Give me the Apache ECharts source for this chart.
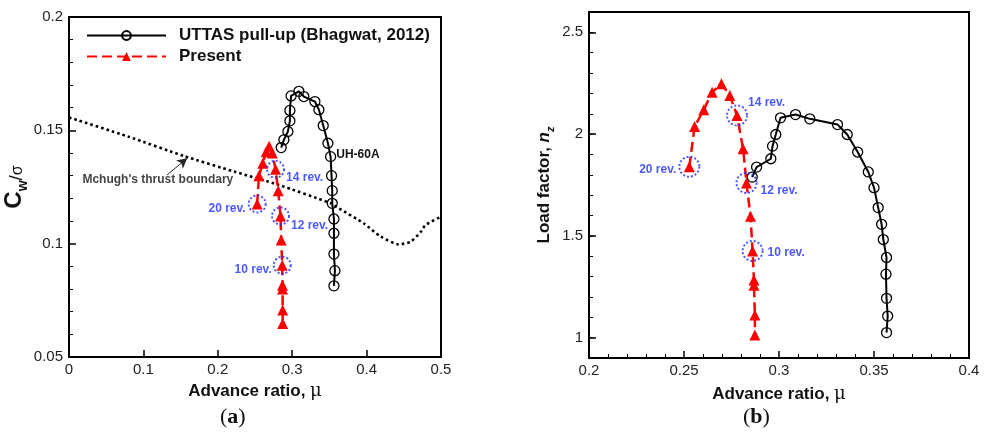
<!DOCTYPE html>
<html>
<head>
<meta charset="utf-8">
<script src="https://cdn.jsdelivr.net/npm/echarts@6/dist/echarts.min.js"></script>
<style>
  html, body { margin: 0; padding: 0; background: #fff; }
  #chart { width: 986px; height: 433px; }
</style>
</head>
<body>
<div id="chart"></div>
<script>
// ---- Panel (a): thrust coefficient vs advance ratio ----
const refMuA = [0.2852, 0.2888, 0.2942, 0.2969, 0.2969, 0.2985, 0.3090, 0.3157, 0.3305, 0.3359, 0.3417,
                0.3480, 0.3516, 0.3529, 0.3538, 0.3538, 0.3561, 0.3561, 0.3561, 0.3574, 0.3561];
const refCw   = [0.1424, 0.1458, 0.1495, 0.1542, 0.1588, 0.1652, 0.1672, 0.1649, 0.1627, 0.1591, 0.1521,
                0.1443, 0.1384, 0.1300, 0.1234, 0.1178, 0.1109, 0.1046, 0.0954, 0.0881, 0.0814];

const presMuA = [0.2529, 0.2553, 0.2605, 0.2650, 0.2690, 0.2733, 0.2776, 0.2812, 0.2843, 0.2852,
                 0.2866, 0.2870, 0.2870, 0.2872, 0.2872];
const presCw  = [0.1175, 0.1300, 0.1355, 0.1405, 0.1430, 0.1400, 0.1328, 0.1234, 0.1122, 0.1016,
                 0.0905, 0.0817, 0.0800, 0.0707, 0.0648];

const mchughMu = [0, 0.080, 0.155, 0.222, 0.282, 0.352, 0.3627, 0.396, 0.419, 0.443, 0.459, 0.473, 0.479, 0.500];
const mchughCw = [0.1557, 0.1472, 0.1386, 0.1318, 0.1259, 0.1178, 0.1156, 0.1090, 0.1031, 0.0997, 0.1008, 0.1053, 0.1082, 0.1119];

// ---- Panel (b): load factor vs advance ratio ----
const refMuB = [0.2859, 0.2882, 0.2957, 0.2966, 0.2983, 0.3008, 0.3087, 0.3162, 0.3308, 0.3359, 0.3414,
                0.3470, 0.3500, 0.3522, 0.3540, 0.3549, 0.3566, 0.3563, 0.3566, 0.3572, 0.3566];
const refNz  = [1.789, 1.838, 1.879, 1.941, 1.998, 2.080, 2.096, 2.075, 2.047, 1.998, 1.912,
                1.814, 1.737, 1.639, 1.557, 1.482, 1.394, 1.312, 1.193, 1.106, 1.025];

const presMuB = [0.2528, 0.2556, 0.2604, 0.2648, 0.2697, 0.2741, 0.2779, 0.2811, 0.2829, 0.2850,
                 0.2861, 0.2868, 0.2868, 0.2873, 0.2873];
const presNz  = [1.840, 2.037, 2.120, 2.206, 2.247, 2.190, 2.092, 1.928, 1.760, 1.597,
                 1.426, 1.283, 1.258, 1.111, 1.013];

// revolution markers: label and index into the "Present" arrays
const revNames = ['20 rev.', '14 rev.', '12 rev.', '10 rev.'];
const revIndex = [0, 6, 8, 10];

// axis ticks
const xTicksA = [0, 0.1, 0.2, 0.3, 0.4, 0.5];
const yTicksA = [0.05, 0.1, 0.15, 0.2];
const xTicksB = [0.2, 0.25, 0.3, 0.35, 0.4];
const yTicksB = [1, 1.5, 2, 2.5];

const seriesRef = 'UTTAS pull-up (Bhagwat, 2012)';
const seriesPres = 'Present';
const UH_LABEL_INDEX = 12;

const FONT = "'Liberation Sans', Arial, sans-serif";
const BLUE = '#1f2eff';
const RED = '#ff0000';

const pairs = (xs, ys) => xs.map((x, i) => [x, ys[i]]);

// label placement for the revolution rings in each panel
const ringLabelA = {
  '20 rev.': { position: 'left',  distance: 2, offset: [0, 5] },
  '14 rev.': { position: 'right', distance: 1, offset: [0, 8] },
  '12 rev.': { position: 'right', distance: 1, offset: [0, 10] },
  '10 rev.': { position: 'left',  distance: 1, offset: [0, 4] }
};
const ringLabelB = {
  '20 rev.': { position: 'left',  distance: 2, offset: [0, 3] },
  '14 rev.': { position: 'right', distance: 0, offset: [0, -13] },
  '12 rev.': { position: 'right', distance: 3, offset: [0, 8] },
  '10 rev.': { position: 'right', distance: 4, offset: [0, 2] }
};

function ringData(xs, ys, placement) {
  return revIndex.map((idx, k) => ({
    name: revNames[k],
    value: [xs[idx], ys[idx]],
    label: Object.assign({ show: true }, placement[revNames[k]])
  }));
}

const axisLineStyle = { lineStyle: { color: '#000', width: 2 } };
const tickStyle = { inside: true, length: 7, lineStyle: { color: '#000', width: 1.5 } };
const minorStyle = { show: true, splitNumber: 5, length: 4, lineStyle: { color: '#000', width: 1 } };
const labelStyle = { fontSize: 15, color: '#222', fontFamily: FONT };

const xNameRich = {
  b: { fontSize: 17, fontWeight: 'bold', fontFamily: FONT, color: '#111' },
  m: { fontSize: 18, fontFamily: "'DejaVu Serif', 'Liberation Serif', serif", color: '#111' }
};

const refLineStyle = {
  symbol: 'circle',
  symbolSize: 10,
  itemStyle: { color: 'rgba(255,255,255,0)', borderColor: '#000', borderWidth: 1.3 },
  lineStyle: { color: '#000', width: 2 }
};
const presLineStyle = {
  symbol: 'triangle',
  symbolSize: 11,
  itemStyle: { color: RED },
  lineStyle: { color: RED, width: 2.5, type: [10, 5] }
};
const ringStyle = {
  type: 'scatter',
  symbol: 'circle',
  itemStyle: { color: 'rgba(255,255,255,0)', borderColor: BLUE, borderWidth: 2, borderType: [2, 2] },
  label: { color: BLUE, fontWeight: 'bold', fontSize: 12, fontFamily: FONT, formatter: '{b}' },
  z: 6,
  silent: true
};

const refDataA = pairs(refMuA, refCw).map((p, i) => i === UH_LABEL_INDEX ? {
  value: p,
  label: { show: true, formatter: 'UH-60A', position: 'right', distance: 0, offset: [0, -2],
           color: '#111', fontWeight: 'bold', fontSize: 12, fontFamily: FONT }
} : p);

const serifFont = "'Liberation Serif', 'DejaVu Serif', serif";
const panelTagRich = {
  p: { fontSize: 22, fontFamily: serifFont, fill: '#111' },
  l: { fontSize: 22, fontWeight: 'bold', fontFamily: serifFont, fill: '#111' }
};

const option = {
  animation: false,
  backgroundColor: '#fff',
  grid: [
    { left: 69, top: 17, width: 372, height: 340, show: true, borderColor: '#000', borderWidth: 2, backgroundColor: 'rgba(0,0,0,0)' },
    { left: 589, top: 12, width: 380, height: 346, show: true, borderColor: '#000', borderWidth: 2, backgroundColor: 'rgba(0,0,0,0)' }
  ],
  legend: {
    data: [seriesRef, seriesPres],
    orient: 'vertical',
    left: 86,
    top: 27,
    padding: 0,
    itemWidth: 79,
    itemHeight: 11,
    itemGap: 4,
    selectedMode: false,
    textStyle: { fontSize: 17, fontWeight: 'bold', color: '#111', fontFamily: FONT, padding: [0, 0, 0, 8] }
  },
  xAxis: [
    {
      gridIndex: 0, type: 'value',
      min: xTicksA[0], max: xTicksA[xTicksA.length - 1], interval: 0.1,
      axisLine: axisLineStyle, axisTick: tickStyle,
      axisLabel: Object.assign({ margin: 5 }, labelStyle),
      splitLine: { show: false },
      name: '{b|Advance ratio, }{m|μ}', nameLocation: 'middle', nameGap: 25,
      nameTextStyle: { rich: xNameRich }
    },
    {
      gridIndex: 1, type: 'value',
      min: xTicksB[0], max: xTicksB[xTicksB.length - 1], interval: 0.05,
      axisLine: axisLineStyle, axisTick: tickStyle, minorTick: minorStyle,
      axisLabel: Object.assign({ margin: 5 }, labelStyle),
      splitLine: { show: false }, minorSplitLine: { show: false },
      name: '{b|Advance ratio, }{m|μ}', nameLocation: 'middle', nameGap: 27,
      nameTextStyle: { rich: xNameRich }
    }
  ],
  yAxis: [
    {
      gridIndex: 0, type: 'value',
      min: yTicksA[0], max: yTicksA[yTicksA.length - 1], interval: 0.05,
      axisLine: axisLineStyle, axisTick: tickStyle, minorTick: minorStyle,
      axisLabel: Object.assign({ margin: 6 }, labelStyle),
      splitLine: { show: false }, minorSplitLine: { show: false },
      name: '{c|C}{w|w}{s|/}{g|σ}', nameLocation: 'middle', nameRotate: 90, nameGap: 38,
      nameTextStyle: {
        rich: {
          c: { fontSize: 24, fontWeight: 'bold', fontFamily: FONT, color: '#111', verticalAlign: 'bottom' },
          w: { fontSize: 14, fontWeight: 'bold', fontFamily: FONT, color: '#111', verticalAlign: 'bottom', padding: [0, 0, -4, 0] },
          s: { fontSize: 19, fontFamily: FONT, color: '#111', verticalAlign: 'bottom' },
          g: { fontSize: 16, fontFamily: FONT, color: '#111', verticalAlign: 'bottom' }
        }
      }
    },
    {
      gridIndex: 1, type: 'value',
      min: 0.9, max: 2.6,
      axisLine: axisLineStyle,
      axisTick: Object.assign({ customValues: yTicksB }, tickStyle),
      axisLabel: Object.assign({ margin: 6, customValues: yTicksB }, labelStyle),
      splitLine: { show: false },
      name: '{b|Load factor, }{n|n}{z|z}', nameLocation: 'middle', nameRotate: 90, nameGap: 36,
      nameTextStyle: {
        rich: {
          b: { fontSize: 17, fontWeight: 'bold', fontFamily: FONT, color: '#111', verticalAlign: 'bottom' },
          n: { fontSize: 17, fontWeight: 'bold', fontStyle: 'italic', fontFamily: FONT, color: '#111', verticalAlign: 'bottom' },
          z: { fontSize: 11, fontWeight: 'bold', fontStyle: 'italic', fontFamily: FONT, color: '#111', verticalAlign: 'bottom', padding: [0, 0, -3, 0] }
        }
      }
    },
    {
      // fine ticks every 0.1 on panel (b)
      gridIndex: 1, type: 'value',
      min: 0.9, max: 2.6, interval: 0.1,
      position: 'left',
      axisLine: { show: false },
      axisTick: { inside: true, length: 4, lineStyle: { color: '#000', width: 1 } },
      axisLabel: { show: false },
      splitLine: { show: false }
    }
  ],
  graphic: [
    { type: 'text', left: 220, top: 406, style: { rich: panelTagRich, text: '{p|(}{l|a}{p|)}' } },
    { type: 'text', left: 743, top: 406, style: { rich: panelTagRich, text: '{p|(}{l|b}{p|)}' } }
  ],
  series: [
    // panel (a)
    {
      type: 'line', name: 'Mchugh', xAxisIndex: 0, yAxisIndex: 0,
      data: pairs(mchughMu, mchughCw), symbol: 'none', smooth: 0.2,
      lineStyle: { color: '#000', width: 2.6, type: [2.6, 3] },
      z: 2, silent: true,
      markLine: {
        silent: true, symbol: ['none', 'arrow'], symbolSize: [8, 10],
        lineStyle: { color: '#222', width: 1, type: 'solid' },
        label: { show: false },
        data: [[{ coord: [0.1318, 0.1303] }, { coord: [0.1588, 0.1377] }]]
      }
    },
    {
      type: 'scatter', name: 'Mchugh label', xAxisIndex: 0, yAxisIndex: 0,
      data: [[0.1194, 0.1281]], symbolSize: 0, silent: true,
      label: { show: true, position: 'inside', formatter: "Mchugh's thrust boundary",
               color: '#111', fontWeight: 'bold', fontSize: 12, fontFamily: FONT }
    },
    Object.assign({ type: 'line', name: seriesRef, xAxisIndex: 0, yAxisIndex: 0, data: refDataA, z: 3 }, refLineStyle),
    Object.assign({ type: 'line', name: seriesPres, xAxisIndex: 0, yAxisIndex: 0, data: pairs(presMuA, presCw), z: 4 }, presLineStyle),
    Object.assign({ name: 'rings a', xAxisIndex: 0, yAxisIndex: 0, symbolSize: 17,
                    data: ringData(presMuA, presCw, ringLabelA) }, ringStyle),
    // panel (b)
    Object.assign({ type: 'line', name: seriesRef, xAxisIndex: 1, yAxisIndex: 1, data: pairs(refMuB, refNz), z: 3 }, refLineStyle),
    Object.assign({ type: 'line', name: seriesPres, xAxisIndex: 1, yAxisIndex: 1, data: pairs(presMuB, presNz), z: 4 }, presLineStyle),
    Object.assign({ name: 'rings b', xAxisIndex: 1, yAxisIndex: 1, symbolSize: 20,
                    data: ringData(presMuB, presNz, ringLabelB) }, ringStyle)
  ]
};

const chart = echarts.init(document.getElementById('chart'));
chart.setOption(option);
</script>
</body>
</html>
